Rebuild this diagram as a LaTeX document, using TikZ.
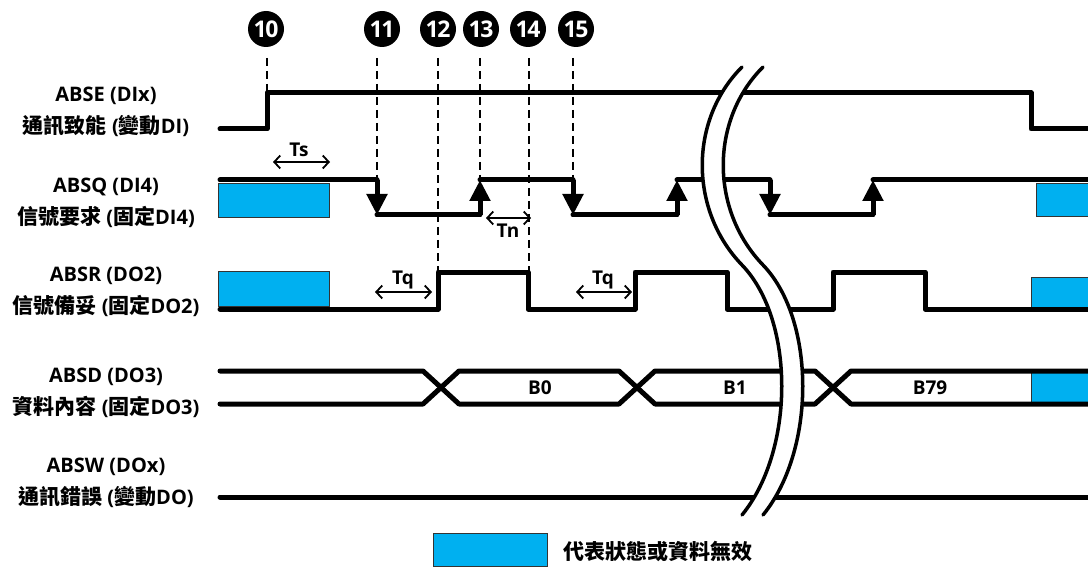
\documentclass[tikz,border=0pt]{standalone}
\usepackage{fontspec}
\setmainfont{Open Sans}
\newfontfamily\cjk{Noto Sans CJK TC}[Scale=1.05]
\usetikzlibrary{arrows.meta}
\definecolor{inv}{HTML}{00B0F0}
\newcommand\zh[1]{{\cjk\bfseries #1}}
\begin{document}
\begin{tikzpicture}[x=1pt,y=-1pt,
 sig/.style={line width=5pt, line join=round, line cap=round},
 edgearrow/.style={line width=5pt, -{Triangle[width=20pt,length=21pt]}},
 guide/.style={line width=2.6pt, dash pattern=on 8pt off 5pt},
 invalid/.style={fill=inv, draw=black!80, line width=0.8pt},
 dim/.style={line width=1.8pt, {Straight Barb[length=6pt,width=13pt]}-{Straight Barb[length=6pt,width=13pt]}},
 num/.style={circle, fill=black, minimum size=36pt, inner sep=0pt, text=white, font=\fontsize{23}{23}\selectfont\bfseries\addfontfeature{LetterSpace=-6}},
 lbl/.style={align=center, font=\fontsize{20}{32}\selectfont\bfseries},
 dimlbl/.style={font=\fontsize{19}{19}\selectfont\bfseries, inner sep=0pt},
 buslbl/.style={font=\fontsize{19}{19}\selectfont\bfseries, inner sep=0pt},
 breakline/.style={line width=3.5pt, line cap=round},
]
\useasboundingbox (0,0) rectangle (1088,567);

% signal labels
\node[lbl] (lE) at (106,112) {ABSE (DIx)\\\zh{通訊致能} (\zh{變動}DI)};
\node[lbl] (lQ) at (106,203) {ABSQ (DI4)\\\zh{信號要求} (\zh{固定}DI4)};
\node[lbl] (lR) at (106,292) {ABSR (DO2)\\\zh{信號備妥} (\zh{固定}DO2)};
\node[lbl] (lD) at (106,393) {ABSD (DO3)\\\zh{資料內容} (\zh{固定}DO3)};
\node[lbl] (lW) at (106,483) {ABSW (DOx)\\\zh{通訊錯誤} (\zh{變動}DO)};

% invalid boxes
\draw[invalid] (218,183) rectangle (329,217);
\draw[invalid] (1036,183) rectangle (1090,216);
\draw[invalid] (218,271) rectangle (329,306);
\draw[invalid] (1031,277) rectangle (1090,307);
\draw[invalid] (1031,371) rectangle (1090,404);

% numbered events
\node[num] (n10) at (266,29) {10};
\node[num] (n11) at (382,29) {11};
\node[num] (n12) at (438,29) {12};
\node[num] (n13) at (481,29) {13};
\node[num] (n14) at (528,29) {14};
\node[num] (n15) at (576,29) {15};

% guide lines
\draw[guide] (267,58) -- (267,93);
\draw[guide] (377,58) -- (377,180);
\draw[guide] (438,58) -- (438,272);
\draw[guide] (480,58) -- (480,180);
\draw[guide] (529,58) -- (529,272);
\draw[guide] (573,58) -- (573,180);

% ABSE
\draw[sig] (220,129) -- (267,129) -- (267,93) -- (1031,93) -- (1031,129) -- (1090,129);

% ABSQ
\draw[sig] (220,180) -- (377,180);
\draw[edgearrow] (377,180) -- (377,215);
\draw[sig] (377,215) -- (480,215);
\draw[edgearrow] (480,215) -- (480,180);
\draw[sig] (480,180) -- (573,180);
\draw[edgearrow] (573,180) -- (573,215);
\draw[sig] (573,215) -- (677,215);
\draw[edgearrow] (677,215) -- (677,180);
\draw[sig] (677,180) -- (770,180);
\draw[edgearrow] (770,180) -- (770,215);
\draw[sig] (770,215) -- (873,215);
\draw[edgearrow] (873,215) -- (873,180);
\draw[sig] (873,180) -- (1090,180);

% ABSR
\draw[sig] (220,309) -- (438,309) -- (438,272) -- (528,272) -- (528,309) -- (635,309) -- (635,272) -- (727,272) -- (727,309) -- (833,309) -- (833,272) -- (925,272) -- (925,309) -- (1090,309);

% ABSD bus
\draw[sig] (220,371) -- (423,371) -- (459,404) -- (619,404) -- (655,371) -- (815,371) -- (851,404) -- (1090,404);
\draw[sig] (220,404) -- (423,404) -- (459,371) -- (619,371) -- (655,404) -- (815,404) -- (851,371) -- (1090,371);
\node[buslbl] (b0) at (540,388) {B0};
\node[buslbl] (b1) at (735,388) {B1};
\node[buslbl] (b79) at (930,388) {B79};

% ABSW
\draw[sig] (220,497) -- (1090,497);

% timing dimensions
\coordinate (ts1) at (273,162); \coordinate (ts2) at (330,162);
\draw[dim] (ts1) -- (ts2);
\node[dimlbl] (ts) at (299,150) {Ts};
\coordinate (tn1) at (486,218); \coordinate (tn2) at (531,218);
\draw[dim] (tn1) -- (tn2);
\node[dimlbl] (tn) at (508,231) {Tn};
\coordinate (tqa1) at (375,292); \coordinate (tqa2) at (432,292);
\draw[dim] (tqa1) -- (tqa2);
\node[dimlbl] (tqa) at (403,280) {Tq};
\coordinate (tqb1) at (576,292); \coordinate (tqb2) at (632,292);
\draw[dim] (tqb1) -- (tqb2);
\node[dimlbl] (tqb) at (603,280) {Tq};

% break mark
\fill[white] (742,67) .. controls (689,120) and (689,210) .. (742,265) .. controls (795,320) and (795,450) .. (742,515) -- (763,515) .. controls (816,450) and (816,320) .. (763,265) .. controls (710,210) and (710,120) .. (763,67) -- cycle;
\draw[breakline] (742,67) .. controls (689,120) and (689,210) .. (742,265) .. controls (795,320) and (795,450) .. (742,515);
\draw[breakline] (763,67) .. controls (710,120) and (710,210) .. (763,265) .. controls (816,320) and (816,450) .. (763,515);

% legend
\draw[invalid] (433,533) rectangle (547,566);
\node[anchor=west, font=\fontsize{20}{20}\selectfont, inner sep=0pt] (leg) at (563,551) {\zh{代表狀態或資料無效}};
\end{tikzpicture}
\end{document}
